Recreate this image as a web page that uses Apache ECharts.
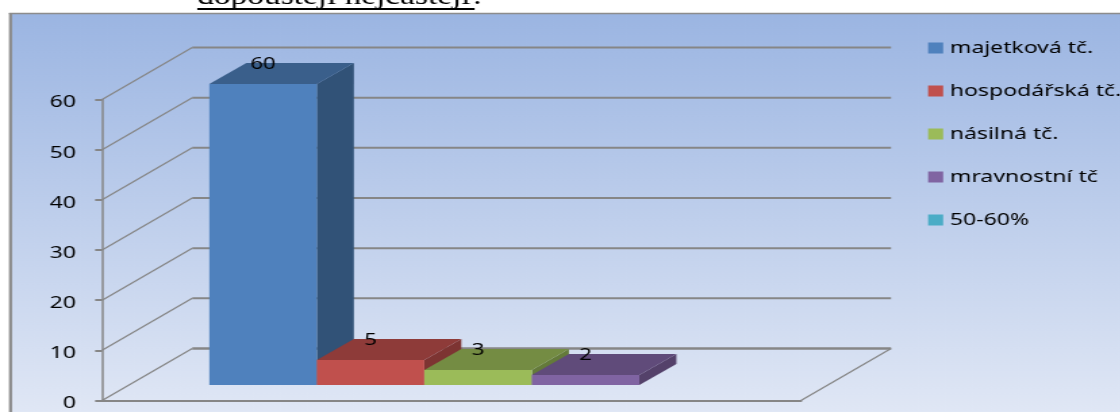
<!DOCTYPE html>
<html>
<head>
<meta charset="utf-8">
<style>
html,body{margin:0;padding:0;background:#fff;overflow:hidden}
#chart{position:absolute;left:0;top:0;height:412px;transform-origin:0 0}
</style>
<script src="https://cdn.jsdelivr.net/npm/echarts@6/dist/echarts.min.js"></script>
</head>
<body>
<div id="chart"></div>
<script>
const titleText = 'dopouštějí nejčastěji?';
const categories = [''];
const seriesNames = ['majetková tč.', 'hospodářská tč.', 'násilná tč.', 'mravnostní tč', '50-60%'];
const seriesValues = [60, 5, 3, 2, null];
const seriesColors = ['#4f81bd', '#c0504d', '#9bbb59', '#8064a2', '#4bacc6'];
const topColors = ['#3a5f8b', '#8e3b39', '#748c43', '#604b7a', '#38809a'];
const sideColors = ['#315277', '#7d3432', '#647a3a', '#54416a', '#2f6d83'];
const yTicks = [0, 10, 20, 30, 40, 50, 60];

// The reference is a horizontally stretched picture: the whole chart is drawn narrower, then widened.
const S = 1.35;
const W = 1120 / S;
const el = document.getElementById('chart');
el.style.width = W + 'px';
el.style.transform = 'scaleX(' + S + ')';
const X = v => v / S;
const gray = '#868686';
const font = '"Noto Sans"';

const wallDx = X(90), wallDy = -52;
const barDx = X(37), barDy = -21;
const offX = X(26.5), offY = -15.5;
const slots = 5 + 1.5;

function line(x1, y1, x2, y2, w) {
  return {type: 'line', silent: true, shape: {x1, y1, x2, y2}, style: {stroke: gray, lineWidth: w, fill: null}};
}
function renderWall(params, api) {
  const t = api.value(1);
  const cs = params.coordSys;
  const y = api.coord([0, t])[1];
  const left = cs.x, right = cs.x + cs.width;
  const kids = [
    line(left, y, left + wallDx, y + wallDy, 1.2),
    line(left + wallDx, y + wallDy, right + wallDx, y + wallDy, t === 0 ? 2.5 : 2)
  ];
  if (t === 0) kids.push(line(right, y, right + wallDx, y + wallDy, 1.2));
  return {type: 'group', children: kids};
}
function renderBar(params, api) {
  const v = api.value(1);
  if (v === null || isNaN(v)) return null;
  const i = params.seriesIndex - 1;
  const band = api.size([1, 0])[0];
  const w = band / slots;
  const c = api.coord([0, 0]);
  const t = api.coord([0, v]);
  const x0 = c[0] - 2.5 * w + i * w + offX, x1 = x0 + w;
  const y0 = c[1] + offY, y1 = t[1] + offY;
  return {type: 'group', children: [
    {type: 'polygon', shape: {points: [[x1, y0], [x1 + barDx, y0 + barDy], [x1 + barDx, y1 + barDy], [x1, y1]]}, style: {fill: sideColors[i]}},
    {type: 'polygon', shape: {points: [[x0, y1], [x1, y1], [x1 + barDx, y1 + barDy], [x0 + barDx, y1 + barDy]]}, style: {fill: topColors[i]}},
    {type: 'rect', shape: {x: x0, y: y1, width: w, height: y0 - y1}, style: {fill: seriesColors[i]}},
    {type: 'text', z2: 10, style: {text: String(v), x: (x0 + x1) / 2, y: y1 + barDy + 1, align: 'center', verticalAlign: 'middle', fill: '#000', font: '16.5px ' + font}}
  ]};
}

const series = [{
  type: 'custom', name: 'walls', silent: true, renderItem: renderWall,
  encode: {x: 0, y: 1}, data: yTicks.map(t => [0, t]), z: 1
}];
seriesNames.forEach((name, i) => {
  series.push({
    type: 'custom', name, renderItem: renderBar, encode: {x: 0, y: 1}, z: 2 + i,
    itemStyle: {color: seriesColors[i]},
    data: [[0, seriesValues[i]]]
  });
});

const chart = echarts.init(el, null, {renderer: 'canvas', width: W, height: 412});
chart.setOption({
  animation: false,
  backgroundColor: '#fff',
  title: {
    text: titleText, left: X(197), top: -15, padding: 0,
    textStyle: {fontFamily: '"Liberation Serif"', fontSize: 24.7, fontWeight: 'normal', color: '#000'}
  },
  graphic: [
    {type: 'rect', z: -10, silent: true, shape: {x: X(10), y: 13, width: W, height: 400},
      style: {fill: {type: 'linear', x: 0, y: 0, x2: 0, y2: 1, colorStops: [{offset: 0, color: '#9bb5e2'}, {offset: 1, color: '#e0e7f5'}]}}},
    {type: 'line', z: -9, silent: true, shape: {x1: X(10.5), y1: 13, x2: X(10.5), y2: 412}, style: {stroke: '#8c8c8c', lineWidth: 2.3}},
    {type: 'line', z: -9, silent: true, shape: {x1: X(9), y1: 13.5, x2: W, y2: 13.5}, style: {stroke: '#8c8c8c', lineWidth: 1.5}},
    {type: 'line', z: 5, silent: true, shape: {x1: X(197), y1: 9, x2: X(474), y2: 9}, style: {stroke: '#000', lineWidth: 2}}
  ],
  legend: {
    orient: 'vertical', left: X(927), top: 38, padding: 0, selectedMode: false,
    itemWidth: X(15), itemHeight: 11, itemGap: 23, icon: 'rect',
    data: seriesNames,
    textStyle: {fontFamily: font, fontSize: 17, color: '#000', lineHeight: 20}
  },
  grid: {left: X(102), top: 99.5, width: X(698), height: 302, containLabel: false},
  xAxis: {
    type: 'category', data: categories,
    axisLine: {show: true, lineStyle: {color: gray, width: 2}},
    axisTick: {show: false}, axisLabel: {show: false}, splitLine: {show: false}
  },
  yAxis: {
    type: 'value', min: 0, max: 60, interval: 10,
    axisLine: {show: true, lineStyle: {color: gray, width: 1.5}},
    axisTick: {show: true, length: X(7), lineStyle: {color: gray, width: 2}},
    axisLabel: {color: '#000', fontFamily: font, fontSize: 17, margin: X(26), verticalAlign: 'top', lineHeight: 6},
    splitLine: {show: false}
  },
  series
});
</script>
</body>
</html>
